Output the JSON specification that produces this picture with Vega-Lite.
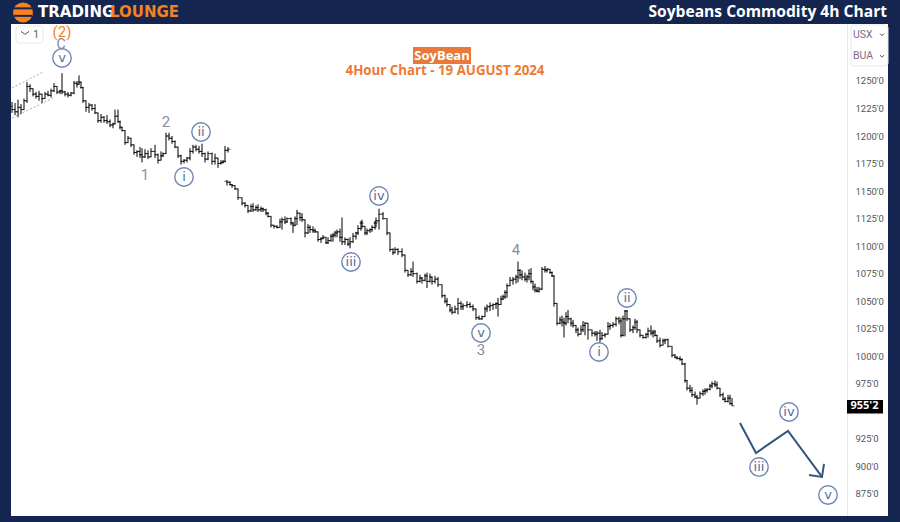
{"$schema":"https://vega.github.io/schema/vega-lite/v6.json","width":900,"height":522,"padding":0,"autosize":"none","background":"#14264f","view":{"stroke":null},"config":{"axis":{"labelOverlap":false,"tickCount":30}},
"datasets":{
"panels":[
{"t":11,"t2":888,"p":1301.7,"p2":855,"f":"#ffffff"},
{"t":847,"t2":848,"p":1301.7,"p2":855,"f":"#e8e8e8"},
{"t":413,"t2":471,"p":1280.8,"p2":1265.4,"f":"#e8793a"}],
"stripes":[{"t":14,"t2":32,"p":1316.8,"p2":1315,"f":"#14264f"},{"t":14,"t2":32,"p":1310,"p2":1308.2,"f":"#14264f"}],
"boxes":[{"t":16,"t2":43,"p":1299.9,"p2":1284.5},{"t":851,"t2":888,"p":1300.8,"p2":1263.6}],
"tag":[{"t":847,"t2":883,"p":960.3,"p2":948}],
"bars":[
{"t":12,"o":1227,"h":1231,"l":1221,"c":1224},{"t":15,"o":1224,"h":1230,"l":1219,"c":1222},{"t":18,"o":1222,"h":1233,"l":1217,"c":1226},{"t":21,"o":1226,"h":1229,"l":1220,"c":1224},{"t":24,"o":1224,"h":1234,"l":1224,"c":1232},{"t":27,"o":1232,"h":1249,"l":1230,"c":1245},{"t":30,"o":1245,"h":1247,"l":1240,"c":1243},{"t":33,"o":1243,"h":1243,"l":1236,"c":1238},{"t":36,"o":1238,"h":1240,"l":1234,"c":1236},{"t":39,"o":1236,"h":1241,"l":1232,"c":1238},{"t":42,"o":1238,"h":1238,"l":1230,"c":1234},{"t":45,"o":1234,"h":1240,"l":1234,"c":1238},{"t":48,"o":1238,"h":1241,"l":1236,"c":1237},{"t":51,"o":1237,"h":1243,"l":1235,"c":1241},{"t":54,"o":1241,"h":1248,"l":1240,"c":1245},{"t":57,"o":1245,"h":1245,"l":1238,"c":1240},{"t":60,"o":1240,"h":1242,"l":1238,"c":1241},{"t":62,"o":1241,"h":1257,"l":1238,"c":1240},{"t":65,"o":1240,"h":1241,"l":1236,"c":1238},{"t":68,"o":1238,"h":1240,"l":1235,"c":1237},{"t":71,"o":1237,"h":1240,"l":1236,"c":1239},{"t":74,"o":1239,"h":1250,"l":1238,"c":1248},{"t":77,"o":1248,"h":1250,"l":1244,"c":1247},{"t":79,"o":1247,"h":1255,"l":1247,"c":1249},{"t":81,"o":1249,"h":1249,"l":1243,"c":1244},{"t":83,"o":1244,"h":1244,"l":1230,"c":1232},{"t":86,"o":1232,"h":1232,"l":1222,"c":1226},{"t":89,"o":1226,"h":1230,"l":1221,"c":1228},{"t":92,"o":1228,"h":1229,"l":1223,"c":1225},{"t":95,"o":1225,"h":1229,"l":1220,"c":1221},{"t":98,"o":1221,"h":1221,"l":1212,"c":1214},{"t":101,"o":1214,"h":1220,"l":1212,"c":1217},{"t":104,"o":1217,"h":1218,"l":1212,"c":1214},{"t":107,"o":1214,"h":1219,"l":1211,"c":1213},{"t":110,"o":1213,"h":1215,"l":1208,"c":1210},{"t":113,"o":1210,"h":1212,"l":1207,"c":1211},{"t":115,"o":1211,"h":1224,"l":1211,"c":1218},{"t":118,"o":1218,"h":1224,"l":1212,"c":1213},{"t":120,"o":1213,"h":1214,"l":1206,"c":1208},{"t":122,"o":1208,"h":1208,"l":1204,"c":1205},{"t":125,"o":1205,"h":1205,"l":1192,"c":1194},{"t":128,"o":1194,"h":1200,"l":1194,"c":1198},{"t":131,"o":1198,"h":1198,"l":1190,"c":1192},{"t":134,"o":1192,"h":1192,"l":1183,"c":1185},{"t":137,"o":1185,"h":1187,"l":1181,"c":1186},{"t":140,"o":1186,"h":1190,"l":1180,"c":1183},{"t":142,"o":1183,"h":1189,"l":1176,"c":1181},{"t":145,"o":1181,"h":1188,"l":1180,"c":1184},{"t":148,"o":1184,"h":1187,"l":1179,"c":1181},{"t":151,"o":1181,"h":1189,"l":1181,"c":1186},{"t":155,"o":1186,"h":1192,"l":1180,"c":1183},{"t":158,"o":1183,"h":1184,"l":1175,"c":1178},{"t":161,"o":1178,"h":1186,"l":1178,"c":1182},{"t":163,"o":1182,"h":1185,"l":1181,"c":1184},{"t":166,"o":1184,"h":1203,"l":1184,"c":1200},{"t":169,"o":1200,"h":1203,"l":1196,"c":1198},{"t":172,"o":1198,"h":1200,"l":1193,"c":1195},{"t":175,"o":1195,"h":1196,"l":1189,"c":1190},{"t":178,"o":1190,"h":1190,"l":1180,"c":1182},{"t":181,"o":1182,"h":1183,"l":1174,"c":1177},{"t":184,"o":1177,"h":1179,"l":1175,"c":1178},{"t":187,"o":1178,"h":1181,"l":1176,"c":1180},{"t":190,"o":1180,"h":1189,"l":1178,"c":1186},{"t":193,"o":1186,"h":1192,"l":1184,"c":1190},{"t":196,"o":1190,"h":1192,"l":1186,"c":1188},{"t":199,"o":1188,"h":1191,"l":1184,"c":1186},{"t":202,"o":1186,"h":1193,"l":1181,"c":1184},{"t":205,"o":1184,"h":1185,"l":1176,"c":1179},{"t":208,"o":1179,"h":1186,"l":1178,"c":1184},{"t":212,"o":1184,"h":1185,"l":1174,"c":1177},{"t":215,"o":1177,"h":1184,"l":1174,"c":1180},{"t":218,"o":1180,"h":1180,"l":1171,"c":1175},{"t":221,"o":1175,"h":1178,"l":1174,"c":1176},{"t":223,"o":1176,"h":1178,"l":1175,"c":1177},{"t":225,"o":1177,"h":1191,"l":1176,"c":1187},{"t":228,"o":1187,"h":1190,"l":1185,"c":1188},
{"t":227,"o":1159,"h":1160,"l":1155,"c":1158},{"t":230,"o":1158,"h":1159,"l":1155,"c":1156},{"t":232,"o":1156,"h":1156,"l":1153,"c":1155},{"t":235,"o":1155,"h":1155,"l":1151,"c":1152},{"t":238,"o":1152,"h":1152,"l":1142,"c":1144},{"t":242,"o":1144,"h":1144,"l":1137,"c":1139},{"t":245,"o":1139,"h":1140,"l":1135,"c":1137},{"t":248,"o":1137,"h":1137,"l":1130,"c":1132},{"t":251,"o":1132,"h":1138,"l":1131,"c":1136},{"t":253,"o":1136,"h":1139,"l":1131,"c":1133},{"t":256,"o":1133,"h":1137,"l":1132,"c":1135},{"t":258,"o":1135,"h":1138,"l":1131,"c":1133},{"t":261,"o":1133,"h":1136,"l":1131,"c":1134},{"t":263,"o":1134,"h":1135,"l":1131,"c":1133},{"t":266,"o":1133,"h":1134,"l":1128,"c":1130},{"t":268,"o":1130,"h":1131,"l":1126,"c":1127},{"t":271,"o":1127,"h":1127,"l":1117,"c":1119},{"t":274,"o":1119,"h":1119,"l":1116,"c":1118},{"t":277,"o":1118,"h":1119,"l":1116,"c":1117},{"t":280,"o":1117,"h":1125,"l":1117,"c":1122},{"t":282,"o":1122,"h":1126,"l":1115,"c":1124},{"t":285,"o":1124,"h":1127,"l":1120,"c":1122},{"t":287,"o":1122,"h":1126,"l":1121,"c":1125},{"t":291,"o":1125,"h":1126,"l":1119,"c":1121},{"t":293,"o":1121,"h":1122,"l":1112,"c":1119},{"t":295,"o":1119,"h":1127,"l":1118,"c":1125},{"t":297,"o":1125,"h":1133,"l":1119,"c":1130},{"t":300,"o":1130,"h":1130,"l":1123,"c":1126},{"t":302,"o":1126,"h":1130,"l":1122,"c":1124},{"t":305,"o":1124,"h":1124,"l":1108,"c":1112},{"t":308,"o":1112,"h":1120,"l":1111,"c":1117},{"t":310,"o":1117,"h":1119,"l":1112,"c":1115},{"t":313,"o":1115,"h":1118,"l":1112,"c":1114},{"t":315,"o":1114,"h":1116,"l":1112,"c":1113},{"t":318,"o":1113,"h":1113,"l":1104,"c":1106},{"t":321,"o":1106,"h":1108,"l":1103,"c":1107},{"t":323,"o":1107,"h":1110,"l":1106,"c":1108},{"t":326,"o":1108,"h":1108,"l":1102,"c":1103},{"t":328,"o":1103,"h":1108,"l":1102,"c":1105},{"t":331,"o":1105,"h":1111,"l":1104,"c":1109},{"t":333,"o":1109,"h":1112,"l":1104,"c":1110},{"t":335,"o":1110,"h":1114,"l":1108,"c":1112},{"t":337,"o":1112,"h":1115,"l":1108,"c":1113},{"t":340,"o":1113,"h":1116,"l":1104,"c":1108},{"t":342,"o":1108,"h":1126,"l":1101,"c":1104},{"t":345,"o":1104,"h":1108,"l":1101,"c":1106},{"t":348,"o":1106,"h":1107,"l":1100,"c":1102},{"t":350,"o":1102,"h":1108,"l":1098,"c":1104},{"t":353,"o":1104,"h":1112,"l":1103,"c":1109},{"t":356,"o":1109,"h":1113,"l":1106,"c":1112},{"t":358,"o":1112,"h":1119,"l":1110,"c":1116},{"t":361,"o":1116,"h":1123,"l":1114,"c":1121},{"t":362,"o":1121,"h":1124,"l":1116,"c":1118},{"t":365,"o":1118,"h":1118,"l":1110,"c":1112},{"t":367,"o":1112,"h":1116,"l":1110,"c":1114},{"t":370,"o":1114,"h":1116,"l":1112,"c":1115},{"t":372,"o":1115,"h":1119,"l":1113,"c":1117},{"t":375,"o":1117,"h":1123,"l":1115,"c":1121},{"t":376,"o":1121,"h":1126,"l":1117,"c":1123},{"t":379,"o":1123,"h":1134,"l":1115,"c":1129},{"t":383,"o":1129,"h":1131,"l":1124,"c":1125},{"t":387,"o":1125,"h":1125,"l":1110,"c":1112},{"t":390,"o":1112,"h":1112,"l":1095,"c":1097},{"t":393,"o":1097,"h":1098,"l":1092,"c":1094},{"t":395,"o":1094,"h":1099,"l":1094,"c":1097},{"t":398,"o":1097,"h":1098,"l":1092,"c":1095},{"t":402,"o":1095,"h":1098,"l":1090,"c":1092},{"t":405,"o":1092,"h":1092,"l":1076,"c":1078},{"t":408,"o":1078,"h":1078,"l":1072,"c":1074},{"t":411,"o":1074,"h":1080,"l":1073,"c":1077},{"t":413,"o":1077,"h":1086,"l":1072,"c":1075},{"t":417,"o":1075,"h":1076,"l":1066,"c":1068},{"t":420,"o":1068,"h":1074,"l":1067,"c":1071},{"t":422,"o":1071,"h":1072,"l":1066,"c":1069},{"t":425,"o":1069,"h":1075,"l":1068,"c":1073},{"t":427,"o":1073,"h":1076,"l":1062,"c":1068},{"t":430,"o":1068,"h":1075,"l":1067,"c":1072},{"t":432,"o":1072,"h":1072,"l":1065,"c":1068},{"t":435,"o":1068,"h":1073,"l":1066,"c":1070},{"t":438,"o":1070,"h":1072,"l":1063,"c":1065},{"t":442,"o":1065,"h":1065,"l":1053,"c":1055},{"t":445,"o":1055,"h":1056,"l":1048,"c":1050},{"t":447,"o":1050,"h":1053,"l":1045,"c":1047},{"t":450,"o":1047,"h":1047,"l":1040,"c":1042},{"t":452,"o":1042,"h":1045,"l":1038,"c":1040},{"t":455,"o":1040,"h":1046,"l":1039,"c":1043},{"t":458,"o":1043,"h":1053,"l":1038,"c":1048},{"t":461,"o":1048,"h":1050,"l":1042,"c":1045},{"t":463,"o":1045,"h":1048,"l":1042,"c":1046},{"t":467,"o":1046,"h":1050,"l":1044,"c":1047},{"t":470,"o":1047,"h":1049,"l":1044,"c":1045},{"t":473,"o":1045,"h":1047,"l":1041,"c":1043},{"t":476,"o":1043,"h":1043,"l":1033,"c":1035},{"t":479,"o":1035,"h":1037,"l":1033,"c":1034},{"t":482,"o":1034,"h":1037,"l":1033,"c":1036},{"t":485,"o":1036,"h":1045,"l":1036,"c":1043},{"t":487,"o":1043,"h":1047,"l":1040,"c":1045},{"t":490,"o":1045,"h":1049,"l":1041,"c":1046},{"t":493,"o":1046,"h":1048,"l":1042,"c":1047},{"t":496,"o":1047,"h":1049,"l":1043,"c":1048},{"t":498,"o":1048,"h":1053,"l":1036,"c":1047},{"t":501,"o":1047,"h":1055,"l":1047,"c":1052},{"t":503,"o":1052,"h":1056,"l":1051,"c":1054},{"t":505,"o":1054,"h":1060,"l":1052,"c":1058},{"t":507,"o":1058,"h":1066,"l":1053,"c":1064},{"t":510,"o":1064,"h":1072,"l":1064,"c":1069},{"t":513,"o":1069,"h":1072,"l":1065,"c":1070},{"t":516,"o":1070,"h":1074,"l":1066,"c":1072},{"t":518,"o":1072,"h":1086,"l":1067,"c":1078},{"t":520,"o":1078,"h":1079,"l":1070,"c":1074},{"t":522,"o":1074,"h":1078,"l":1069,"c":1072},{"t":525,"o":1072,"h":1076,"l":1068,"c":1070},{"t":527,"o":1070,"h":1074,"l":1067,"c":1072},{"t":529,"o":1072,"h":1079,"l":1069,"c":1075},{"t":531,"o":1075,"h":1080,"l":1066,"c":1068},{"t":533,"o":1068,"h":1068,"l":1060,"c":1063},{"t":535,"o":1063,"h":1066,"l":1058,"c":1060},{"t":537,"o":1060,"h":1063,"l":1058,"c":1059},{"t":539,"o":1059,"h":1063,"l":1058,"c":1061},{"t":542,"o":1061,"h":1081,"l":1060,"c":1079},{"t":545,"o":1079,"h":1082,"l":1076,"c":1078},{"t":547,"o":1078,"h":1080,"l":1076,"c":1079},{"t":550,"o":1079,"h":1079,"l":1075,"c":1076},{"t":552,"o":1076,"h":1077,"l":1072,"c":1073},{"t":554,"o":1073,"h":1073,"l":1045,"c":1048},{"t":557,"o":1048,"h":1048,"l":1028,"c":1030},{"t":560,"o":1030,"h":1036,"l":1029,"c":1033},{"t":562,"o":1033,"h":1037,"l":1027,"c":1031},{"t":564,"o":1031,"h":1035,"l":1017,"c":1030},{"t":566,"o":1030,"h":1040,"l":1028,"c":1036},{"t":568,"o":1036,"h":1042,"l":1030,"c":1034},{"t":571,"o":1034,"h":1035,"l":1027,"c":1030},{"t":573,"o":1030,"h":1033,"l":1026,"c":1028},{"t":576,"o":1028,"h":1028,"l":1021,"c":1024},{"t":578,"o":1024,"h":1026,"l":1018,"c":1020},{"t":581,"o":1020,"h":1028,"l":1020,"c":1024},{"t":583,"o":1024,"h":1032,"l":1022,"c":1028},{"t":585,"o":1028,"h":1031,"l":1019,"c":1030},{"t":588,"o":1030,"h":1030,"l":1015,"c":1024},{"t":592,"o":1024,"h":1024,"l":1018,"c":1021},{"t":595,"o":1021,"h":1023,"l":1018,"c":1020},{"t":597,"o":1020,"h":1023,"l":1014,"c":1021},{"t":600,"o":1021,"h":1024,"l":1013,"c":1016},{"t":602,"o":1016,"h":1022,"l":1015,"c":1019},{"t":605,"o":1019,"h":1021,"l":1017,"c":1020},{"t":608,"o":1020,"h":1031,"l":1020,"c":1027},{"t":610,"o":1027,"h":1030,"l":1024,"c":1028},{"t":613,"o":1028,"h":1031,"l":1026,"c":1029},{"t":616,"o":1029,"h":1036,"l":1027,"c":1034},{"t":619,"o":1034,"h":1036,"l":1029,"c":1032},{"t":621,"o":1032,"h":1035,"l":1017,"c":1019},{"t":623,"o":1019,"h":1037,"l":1018,"c":1034},{"t":625,"o":1034,"h":1042,"l":1018,"c":1041},{"t":627,"o":1041,"h":1042,"l":1032,"c":1034},{"t":630,"o":1034,"h":1034,"l":1022,"c":1024},{"t":633,"o":1024,"h":1028,"l":1021,"c":1026},{"t":635,"o":1026,"h":1034,"l":1024,"c":1031},{"t":637,"o":1031,"h":1033,"l":1021,"c":1024},{"t":640,"o":1024,"h":1024,"l":1017,"c":1019},{"t":643,"o":1019,"h":1019,"l":1016,"c":1017},{"t":646,"o":1017,"h":1021,"l":1016,"c":1020},{"t":648,"o":1020,"h":1026,"l":1017,"c":1023},{"t":651,"o":1023,"h":1028,"l":1019,"c":1021},{"t":653,"o":1021,"h":1024,"l":1017,"c":1022},{"t":655,"o":1022,"h":1024,"l":1018,"c":1019},{"t":657,"o":1019,"h":1019,"l":1012,"c":1014},{"t":660,"o":1014,"h":1017,"l":1008,"c":1010},{"t":663,"o":1010,"h":1016,"l":1010,"c":1014},{"t":665,"o":1014,"h":1016,"l":1011,"c":1015},{"t":668,"o":1015,"h":1016,"l":1008,"c":1009},{"t":672,"o":1009,"h":1009,"l":999,"c":1001},{"t":675,"o":1001,"h":1002,"l":998,"c":999},{"t":677,"o":999,"h":1000,"l":997,"c":998},{"t":680,"o":998,"h":1000,"l":996,"c":997},{"t":682,"o":997,"h":998,"l":992,"c":993},{"t":685,"o":993,"h":994,"l":976,"c":978},{"t":687,"o":978,"h":978,"l":969,"c":971},{"t":690,"o":971,"h":974,"l":967,"c":969},{"t":692,"o":969,"h":972,"l":963,"c":965},{"t":695,"o":965,"h":968,"l":962,"c":963},{"t":697,"o":963,"h":965,"l":956,"c":962},{"t":700,"o":962,"h":968,"l":962,"c":966},{"t":703,"o":966,"h":970,"l":964,"c":968},{"t":705,"o":968,"h":971,"l":965,"c":969},{"t":707,"o":969,"h":971,"l":967,"c":970},{"t":710,"o":970,"h":975,"l":969,"c":973},{"t":712,"o":973,"h":977,"l":971,"c":975},{"t":715,"o":975,"h":978,"l":972,"c":974},{"t":717,"o":974,"h":977,"l":970,"c":971},{"t":720,"o":971,"h":971,"l":963,"c":965},{"t":723,"o":965,"h":967,"l":960,"c":961},{"t":725,"o":961,"h":963,"l":958,"c":959},{"t":728,"o":959,"h":965,"l":958,"c":962},{"t":730,"o":962,"h":965,"l":956,"c":957},{"t":732,"o":957,"h":962,"l":955,"c":955}],
"paths":[
{"g":"wave","n":1,"t":740,"p":939.4,"k":"#34557f","w":2},{"g":"wave","n":2,"t":756,"p":912.2,"k":"#34557f","w":2},{"g":"wave","n":3,"t":788,"p":932.2,"k":"#34557f","w":2},{"g":"wave","n":4,"t":822,"p":890.4,"k":"#34557f","w":2},
{"g":"head","n":1,"t":824,"p":902.2,"k":"#34557f","w":2},{"g":"head","n":2,"t":822,"p":890.4,"k":"#34557f","w":2},{"g":"head","n":3,"t":809,"p":892.2,"k":"#34557f","w":2},
{"g":"c1","n":1,"t":21,"p":1295,"k":"#555555","w":1},{"g":"c1","n":2,"t":25,"p":1292.3,"k":"#555555","w":1},{"g":"c1","n":3,"t":29,"p":1295,"k":"#555555","w":1},
{"g":"c2","n":1,"t":880,"p":1293,"k":"#555555","w":1},{"g":"c2","n":2,"t":882,"p":1291,"k":"#555555","w":1},{"g":"c2","n":3,"t":884,"p":1293,"k":"#555555","w":1},
{"g":"c3","n":1,"t":880,"p":1273.5,"k":"#555555","w":1},{"g":"c3","n":2,"t":882,"p":1271.5,"k":"#555555","w":1},{"g":"c3","n":3,"t":884,"p":1273.5,"k":"#555555","w":1}],
"channel":[{"g":"a","n":1,"t":12,"p":1243.6},{"g":"a","n":2,"t":43,"p":1258.1},{"g":"b","n":1,"t":12,"p":1216.4},{"g":"b","n":2,"t":55,"p":1235.4}],
"circles":[{"t":62,"p":1270.8,"x":"v"},{"t":184,"p":1162.8,"x":"i"},{"t":201,"p":1203.6,"x":"ii"},{"t":379,"p":1145.5,"x":"iv"},{"t":351,"p":1085.6,"x":"iii"},{"t":481,"p":1021.1,"x":"v"},{"t":627,"p":1052.9,"x":"ii"},{"t":599,"p":1003.9,"x":"i"},{"t":759,"p":899.5,"x":"iii"},{"t":789,"p":949.4,"x":"iv"},{"t":828,"p":874,"x":"v"}],
"notes":[{"t":62,"p":1294,"x":"(2)","k":"#f5821f","s":15},{"t":61,"p":1282.8,"x":"C","k":"#7d8ba5","s":14},{"t":166,"p":1212.7,"x":"2","k":"#8a8f9c","s":15},{"t":145,"p":1164.6,"x":"1","k":"#8a8f9c","s":15},{"t":481,"p":1005.7,"x":"3","k":"#8a8f9c","s":15},{"t":516,"p":1096.5,"x":"4","k":"#8a8f9c","s":15},{"t":36,"p":1291.5,"x":"1","k":"#666666","s":11}],
"bold":[{"t":442,"p":1273.1,"x":"SoyBean","k":"#ffffff","s":13},{"t":445,"p":1258.6,"x":"4Hour Chart - 19 AUGUST 2024","k":"#ee7a32","s":13.3},{"t":864.5,"p":954.4,"x":"955'2","k":"#ffffff","s":11}],
"logo":[{"t":23,"p":1312.2}],
"brand":[{"t":38,"p":1312.6,"x":"TRADING","k":"#ffffff"},{"t":110,"p":1312.6,"x":"LOUNGE","k":"#f5821f"}],
"head":[{"t":887,"p":1312.2,"x":"Soybeans Commodity 4h Chart"}],
"units":[{"t":853,"p":1291.7,"x":"USX"},{"t":853,"p":1272.7,"x":"BUA"}]
},
"encoding":{
"x":{"field":"t","type":"quantitative","scale":{"domain":[0,900],"nice":false,"zero":false},"axis":null},
"y":{"field":"p","type":"quantitative","scale":{"domain":[849.5,1323.5],"nice":false,"zero":false}}
},
"layer":[
{"data":{"name":"panels"},"mark":{"type":"rect"},"encoding":{"x2":{"field":"t2"},"y":{"field":"p","type":"quantitative","scale":{"domain":[849.5,1323.5],"nice":false,"zero":false},"axis":{"orient":"right","offset":-46,"values":[1250,1225,1200,1175,1150,1125,1100,1075,1050,1025,1000,975,925,900,875],"tickCount":30,"labelExpr":"format(datum.value,'d') + \"'0\"","labelOverlap":false,"ticks":false,"domain":false,"grid":false,"title":null,"labelColor":"#555555","labelFont":"Roboto","labelFontSize":9.5,"labelPadding":1,"zindex":1}},"y2":{"field":"p2"},"color":{"field":"f","type":"nominal","scale":null}}},
{"data":{"name":"boxes"},"mark":{"type":"rect","fill":"#ffffff","stroke":"#e8e8e8","strokeWidth":1,"cornerRadius":3},"encoding":{"x2":{"field":"t2"},"y2":{"field":"p2"}}},
{"data":{"name":"channel"},"mark":{"type":"line","stroke":"#aaaaaa","strokeWidth":1,"strokeDash":[2,2]},"encoding":{"detail":{"field":"g"},"order":{"field":"n"}}},
{"data":{"name":"bars"},"mark":{"type":"rule","color":"#000000","strokeWidth":1},"encoding":{"y":{"field":"h","type":"quantitative"},"y2":{"field":"l"}}},
{"data":{"name":"bars"},"mark":{"type":"tick","orient":"horizontal","color":"#000000","size":3,"thickness":1,"xOffset":-1},"encoding":{"y":{"field":"o","type":"quantitative"}}},
{"data":{"name":"bars"},"mark":{"type":"tick","orient":"horizontal","color":"#000000","size":3,"thickness":1,"xOffset":1},"encoding":{"y":{"field":"c","type":"quantitative"}}},
{"data":{"name":"paths"},"mark":{"type":"line"},"encoding":{"detail":{"field":"g"},"order":{"field":"n"},"color":{"field":"k","type":"nominal","scale":null},"strokeWidth":{"field":"w","type":"quantitative","scale":null}}},
{"data":{"name":"tag"},"mark":{"type":"rect","fill":"#000000"},"encoding":{"x2":{"field":"t2"},"y2":{"field":"p2"}}},
{"data":{"name":"circles"},"mark":{"type":"point","shape":"circle","size":340,"filled":false,"stroke":"#6d86b3","strokeWidth":1.4,"opacity":1}},
{"data":{"name":"circles"},"mark":{"type":"text","font":"DejaVu Sans","fontSize":13,"color":"#4f6d9e","baseline":"middle","align":"center"},"encoding":{"text":{"field":"x"}}},
{"data":{"name":"notes"},"mark":{"type":"text","font":"Roboto","baseline":"middle","align":"center"},"encoding":{"text":{"field":"x"},"color":{"field":"k","type":"nominal","scale":null},"size":{"field":"s","type":"quantitative","scale":null}}},
{"data":{"name":"bold"},"mark":{"type":"text","font":"Open Sans","fontWeight":"bold","baseline":"middle","align":"center"},"encoding":{"text":{"field":"x"},"color":{"field":"k","type":"nominal","scale":null},"size":{"field":"s","type":"quantitative","scale":null}}},
{"data":{"name":"logo"},"mark":{"type":"point","shape":"circle","filled":true,"size":400,"color":"#f5821f","opacity":1}},
{"data":{"name":"stripes"},"mark":{"type":"rect"},"encoding":{"x2":{"field":"t2"},"y2":{"field":"p2"},"color":{"field":"f","type":"nominal","scale":null}}},
{"data":{"name":"brand"},"mark":{"type":"text","font":"DejaVu Sans","fontWeight":"bold","fontSize":15,"baseline":"middle","align":"left"},"encoding":{"text":{"field":"x"},"color":{"field":"k","type":"nominal","scale":null}}},
{"data":{"name":"head"},"mark":{"type":"text","font":"Open Sans","fontWeight":"bold","fontSize":15.6,"color":"#ffffff","baseline":"middle","align":"right"},"encoding":{"text":{"field":"x"}}},
{"data":{"name":"units"},"mark":{"type":"text","font":"Roboto","fontSize":10.5,"color":"#7a6c8a","baseline":"middle","align":"left"},"encoding":{"text":{"field":"x"}}}
]}
